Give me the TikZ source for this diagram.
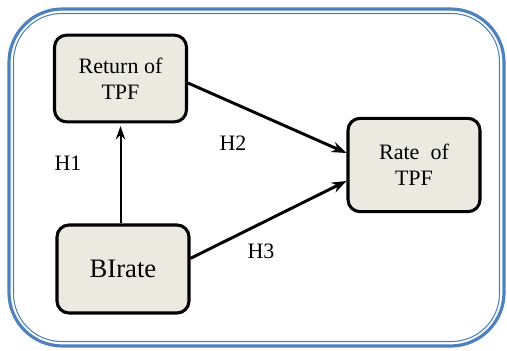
\documentclass[tikz,border=0pt]{standalone}
\usepackage{fontspec}
\setmainfont{Liberation Serif}
\usetikzlibrary{arrows.meta,positioning}
\definecolor{frameblue}{RGB}{79,129,189}
\definecolor{boxfill}{RGB}{236,234,224}

\tikzset{
  varbox/.style={draw=black, line width=2.3pt, fill=boxfill, rounded corners=9pt,
                 align=center, minimum width=99pt, font=\fontsize{16.5}{19.5}\selectfont},
  hyp/.style={font=\fontsize{16.5}{18}\selectfont},
  link/.style={-{Stealth[length=11pt,width=8pt]}, line width=2.2pt}
}

\begin{document}
\begin{tikzpicture}[x=0.75pt,y=-0.75pt]
  \useasboundingbox (0,0) rectangle (507,350);
  \draw[frameblue, line width=2.4pt, rounded corners=40pt] (9,9) rectangle (504,346);   %outer frame
  \draw[frameblue, line width=0.8pt, rounded corners=36pt] (13.5,13.5) rectangle (499.5,341.5); %inner frame

  \node[varbox, minimum height=65pt] (ret) at (120.5,78.5) {Return of\\TPF};   % Return box
  \node[varbox, minimum height=70pt] (rate) at (414,165) {Rate\ \ of\\TPF};    % Rate box
  \node[varbox, minimum height=66pt, font=\fontsize{20}{22}\selectfont] (bir) at (123,269) {BIrate};

  \draw[-{Stealth[length=10pt,width=7pt]}, line width=1.5pt] (bir.north -| ret.south) -- ([yshift=-2pt]ret.south); % H1
  \draw[link] ([yshift=-3.4pt]ret.east) -- ([yshift=9pt]rate.west);   % H2
  \draw[link] ([yshift=8pt]bir.east) -- ([yshift=-12pt]rate.west);    % H3

  \node[hyp] (h1) at (68,163) {H1};
  \node[hyp] (h2) at (233,143) {H2};
  \node[hyp] (h3) at (261,251) {H3};
\end{tikzpicture}
\end{document}
